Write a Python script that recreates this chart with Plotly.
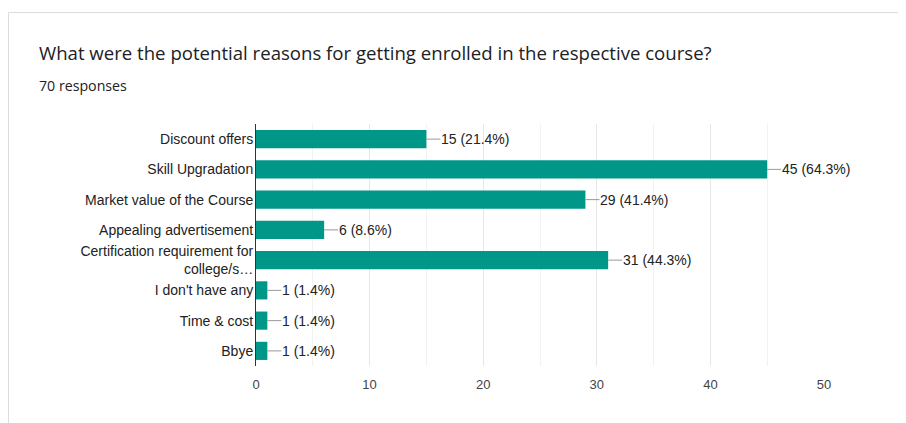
import plotly.graph_objects as go

categories = ["Discount offers", "Skill Upgradation", "Market value of the Course",
              "Appealing advertisement", "Certification requirement for<br>college/s…",
              "I don't have any", "Time & cost", "Bbye"]
counts = [15, 45, 29, 6, 31, 1, 1, 1]
percents = ["21.4%", "64.3%", "41.4%", "8.6%", "44.3%", "1.4%", "1.4%", "1.4%"]
x_ticks = [0, 10, 20, 30, 40, 50]

# page has an 8px body margin; figure is drawn in page coordinates minus 8
OFF = 8
W, H = 906 - OFF, 423 - OFF
L, R, T, B = 256 - OFF, 906 - 824, 124 - OFF, 423 - 366
pw, ph = W - L - R, H - T - B

def px2x(px):
    return (px - OFF - L) / pw

def py2y(py):
    return (H - B - (py - OFF)) / ph

fig = go.Figure()
fig.add_trace(go.Bar(
    x=counts, y=categories, orientation="h",
    marker=dict(color="#009688", line=dict(width=0)),
    hoverinfo="skip",
))

for c, v, p in zip(categories, counts, percents):
    fig.add_annotation(
        x=v, y=c, xref="x", yref="y",
        text=f"{v} ({p})", showarrow=True, arrowhead=0, arrowwidth=1,
        arrowcolor="#999999", ax=14, ay=0, xanchor="left", borderpad=0,
        standoff=0, startstandoff=0,
        font=dict(family="Liberation Sans, Arial", size=14, color="#222222"),
    )

# card border
fig.add_shape(type="rect", xref="paper", yref="paper",
              x0=px2x(OFF + 0.5), x1=px2x(930), y0=py2y(450), y1=py2y(12.5),
              line=dict(color="#dadce0", width=1), fillcolor="rgba(0,0,0,0)", layer="below")

fig.add_annotation(xref="paper", yref="paper", x=px2x(37), y=py2y(52),
                   xanchor="left", yanchor="middle", showarrow=False,
                   text="What were the potential reasons for getting enrolled in the respective course?",
                   font=dict(family="Open Sans", size=18.6, color="#202124"))
fig.add_annotation(xref="paper", yref="paper", x=px2x(37), y=py2y(85),
                   xanchor="left", yanchor="middle", showarrow=False,
                   text="70 responses",
                   font=dict(family="Open Sans", size=14.2, color="#202124"))

fig.update_layout(
    width=W, height=H, margin=dict(l=L, r=R, t=T, b=B, autoexpand=False),
    paper_bgcolor="white", plot_bgcolor="white", showlegend=False,
    bargap=0.4,
    xaxis=dict(range=[0, 50], tickvals=x_ticks, ticktext=[str(t) for t in x_ticks],
               showgrid=True, gridcolor="#e6e6e6", gridwidth=1,
               minor=dict(dtick=5, showgrid=True, gridcolor="#f2f2f2"),
               zeroline=False, showline=False, ticks="",
               ticklabelstandoff=9,
               tickfont=dict(family="Liberation Sans, Arial", size=13, color="#444444"),
               fixedrange=True),
    yaxis=dict(autorange="reversed", showgrid=False, zeroline=False,
               showline=True, linecolor="#333333", linewidth=1, ticks="",
               ticklabelstandoff=-1,
               tickfont=dict(family="Liberation Sans, Arial", size=14, color="#222222"),
               fixedrange=True),
)

fig.write_html("out.html")
